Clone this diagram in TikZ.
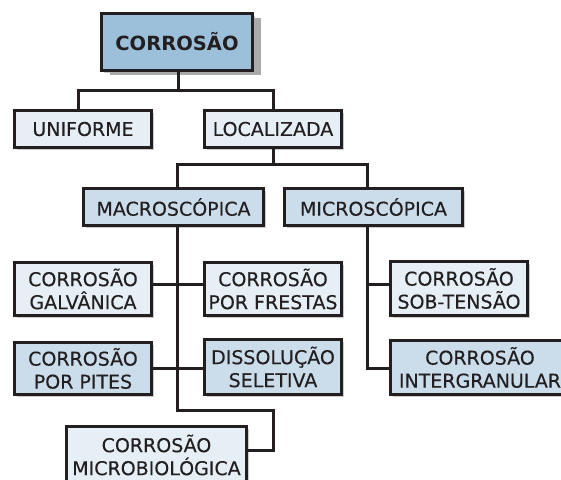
\documentclass[tikz,border=0pt]{standalone}
\usepackage{fontspec}
\setmainfont{DejaVu Sans}
\newfontface\boxfont{DejaVu Sans}[FakeBold=0.3]
\usetikzlibrary{shadows}
\definecolor{linec}{HTML}{231F20}
\definecolor{textc}{HTML}{231F20}
\definecolor{litec}{HTML}{E5EFF5}
\definecolor{darkc}{HTML}{CBDCEB}
\definecolor{topc}{HTML}{9CBFDA}
\definecolor{shadc}{HTML}{AAAAAA}

\begin{document}
\begin{tikzpicture}[x=1pt,y=-1pt,
  box/.style={draw=linec, line width=3pt, inner sep=0pt, align=center,
    font=\boxfont\fontsize{19}{23}\selectfont, text=textc,
    drop shadow={shadow xshift=2pt, shadow yshift=-2pt, fill=shadc!60, opacity=1}},
  lite/.style={box, fill=litec},
  dark/.style={box, fill=darkc},
  conn/.style={draw=linec, line width=3pt}]
\clip (0,0) rectangle (561,479);
\useasboundingbox (0,0) rectangle (561,479);
\fill[white] (0,0) rectangle (561,479);

\node[box, fill=topc, minimum width=151pt, minimum height=57pt,
  font=\fontsize{19.5}{23}\bfseries\selectfont,
  drop shadow={shadow xshift=8pt, shadow yshift=-4pt, fill=shadc, opacity=1}]
  (top) at (177,42) {CORROSÃO};

\node[lite, minimum width=137pt, minimum height=37pt] (uni) at (83,129) {UNIFORME};
\node[lite, minimum width=137pt, minimum height=37pt] (loc) at (273,129) {LOCALIZADA};
\node[dark, minimum width=180pt, minimum height=37pt] (macro) at (173.5,207) {MACROSCÓPICA};
\node[dark, minimum width=178pt, minimum height=37pt] (micro) at (373.5,207) {MICROSCÓPICA};
\node[lite, minimum width=137pt, minimum height=53pt] (galv) at (83,289) {CORROSÃO\\GALVÂNICA};
\node[lite, minimum width=137pt, minimum height=53pt] (fres) at (273,289) {CORROSÃO\\POR FRESTAS};
\node[dark, minimum width=137pt, minimum height=52pt] (pit) at (83,368.5) {CORROSÃO\\POR PITES};
\node[dark, minimum width=137pt, minimum height=55pt] (dis) at (273,367) {DISSOLUÇÃO\\SELETIVA};
\node[lite, minimum width=137pt, minimum height=54pt] (sob) at (459,288.5) {CORROSÃO\\SOB-TENSÃO};
\node[dark, minimum width=179pt, minimum height=54pt] (inter) at (480,367.5) {CORROSÃO\\INTERGRANULAR};
\node[lite, minimum width=180pt, minimum height=57pt] (mbio) at (156.5,455) {CORROSÃO\\MICROBIOLÓGICA};

\coordinate (a) at (78,90);
\coordinate (b) at (273,90);
\coordinate (j1) at (178,90);
\draw[conn] (top.south -| j1) -- (j1);
\draw[conn] (uni.north -| a) -- (a) -- (b) -- (loc.north -| b);

\coordinate (m1) at (177,164);
\coordinate (m2) at (367,164);
\draw[conn] (loc.south) -- (loc.south |- m1);
\draw[conn] (macro.north -| m1) -- (m1) -- (m2) -- (micro.north -| m2);

\coordinate (v1) at (177,410);
\coordinate (v2) at (273,410);
\coordinate (v3) at (273,450);
\draw[conn] (macro.south -| v1) -- (v1) -- (v2) -- (v3) -- (mbio.east |- v3);
\coordinate (h1) at (177,284);
\coordinate (h2) at (177,368);
\draw[conn] (galv.east |- h1) -- (fres.west |- h1);
\draw[conn] (pit.east |- h2) -- (dis.west |- h2);

\coordinate (w1) at (367,284);
\coordinate (w2) at (367,368);
\draw[conn] (micro.south -| w1) -- (w2) -- (inter.west |- w2);
\draw[conn] (w1) -- (sob.west |- w1);
\end{tikzpicture}
\end{document}
